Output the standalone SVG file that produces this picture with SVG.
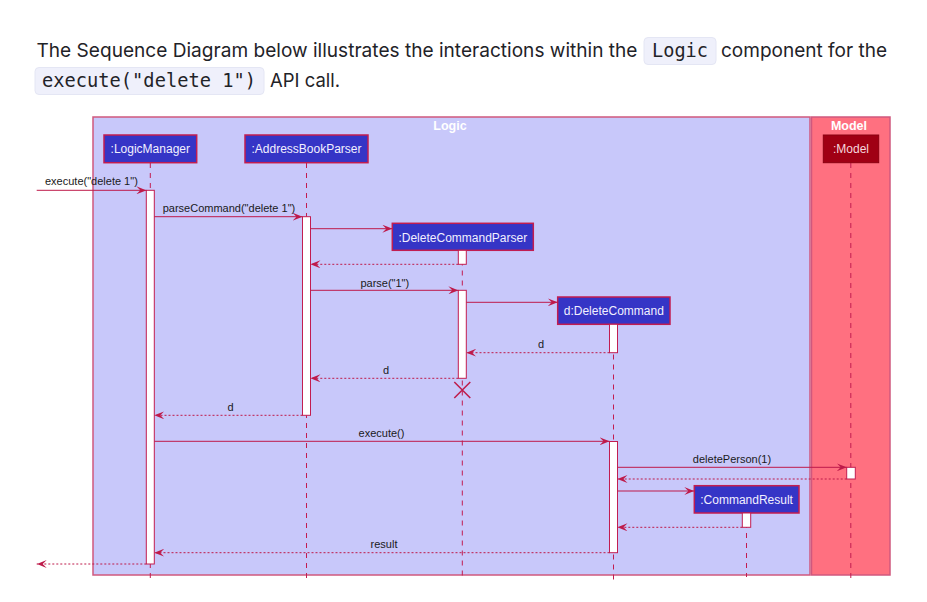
<svg xmlns="http://www.w3.org/2000/svg" width="927" height="602" viewBox="0 0 927 602">
<style>
.p{font-family:Inter,"Noto Sans",sans-serif;font-size:19px;fill:#1f2328}
.code{font-family:"DejaVu Sans Mono",monospace;font-size:18.6px;fill:#1f2328}
.cbg{fill:#eff0fb;stroke:#e4e6f4;stroke-width:1}
.grp{stroke:#d0587e;stroke-width:1.5}
.gt{font-family:"Liberation Sans",Arial,sans-serif;font-size:12.5px;font-weight:bold;fill:#ffffff;text-anchor:middle}
.part{fill:#3535c6;stroke:#c21d50;stroke-width:1.5}
.pt{font-family:"Liberation Sans",Arial,sans-serif;font-size:12px;fill:#f2f0ff;text-anchor:middle}
.life{stroke:#c21d50;stroke-width:1;stroke-dasharray:5 5;fill:none}
.act{fill:#ffffff;stroke:#c21d50;stroke-width:1}
.msg{stroke:#be1a4a;stroke-width:1;fill:none;marker-end:url(#ah)}
.ret{stroke:#be1a4a;stroke-width:1;fill:none;stroke-dasharray:2 2;marker-end:url(#ah)}
.ml{font-family:"Liberation Sans",Arial,sans-serif;font-size:11px;fill:#1a1a1a}
.mc{text-anchor:middle}
</style>
<defs>
<marker id="ah" markerUnits="userSpaceOnUse" markerWidth="10" markerHeight="8" refX="10" refY="4" orient="auto">
<path d="M0,0 L10,4 L0,8 L4,4 Z" fill="#be1a4a"/>
</marker>
</defs>
<rect width="927" height="602" fill="#ffffff"/>
<g id="header">
<text class="p" x="36.5" y="57" textLength="601" lengthAdjust="spacingAndGlyphs">The Sequence Diagram below illustrates the interactions within the</text>
<rect class="cbg" x="644" y="37.5" width="72" height="27" rx="4"/>
<text class="code" x="652" y="57" textLength="56" lengthAdjust="spacingAndGlyphs">Logic</text>
<text class="p" x="721" y="57" textLength="166" lengthAdjust="spacingAndGlyphs">component for the</text>
<rect class="cbg" x="35" y="67.5" width="229" height="27" rx="4"/>
<text class="code" x="42" y="87" textLength="214" lengthAdjust="spacingAndGlyphs">execute("delete 1")</text>
<text class="p" x="270" y="87" textLength="70" lengthAdjust="spacingAndGlyphs">API call.</text>
</g>
<g id="logic-box">
<rect class="grp" x="93" y="117" width="717" height="458" fill="#c8c8fa"/>
<text class="gt" x="450" y="130">Logic</text>
</g>
<g id="model-box">
<rect class="grp" x="811.5" y="117" width="78.5" height="458" fill="#ff7080"/>
<text class="gt" x="849" y="130">Model</text>
</g>
<g id="lifelines">
<line class="life" x1="150.3" y1="163" x2="150.3" y2="580"/>
<line class="life" x1="306.5" y1="163" x2="306.5" y2="580"/>
<line class="life" x1="462.3" y1="250.5" x2="462.3" y2="577"/>
<line class="life" x1="613.5" y1="324.5" x2="613.5" y2="580"/>
<line class="life" x1="746.5" y1="513" x2="746.5" y2="577"/>
<line class="life" x1="850.8" y1="163" x2="850.8" y2="580"/>
</g>
<g id="LogicManager">
<rect class="part" x="104" y="135" width="92.7" height="27.7"/>
<text class="pt" x="150.3" y="153">:LogicManager</text>
<rect class="act" x="146.3" y="190.3" width="8" height="373.7"/>
</g>
<g id="AddressBookParser">
<rect class="part" x="245" y="135" width="123" height="27.7"/>
<text class="pt" x="306.5" y="153">:AddressBookParser</text>
<rect class="act" x="302.5" y="216.7" width="8" height="198.6"/>
</g>
<g id="DeleteCommandParser">
<rect class="part" x="392.3" y="223.3" width="141" height="27"/>
<text class="pt" x="462.8" y="241.5">:DeleteCommandParser</text>
<rect class="act" x="458.3" y="250.3" width="8" height="14"/>
<rect class="act" x="458.3" y="290.3" width="8" height="88"/>
<path d="M454.3,382 L470.3,398 M470.3,382 L454.3,398" stroke="#be1a4a" stroke-width="1.5" fill="none"/>
</g>
<g id="DeleteCommand">
<rect class="part" x="557.7" y="297" width="112.3" height="27.3"/>
<text class="pt" x="613.8" y="315.2">d:DeleteCommand</text>
<rect class="act" x="609.5" y="324.3" width="8" height="28.4"/>
<rect class="act" x="609.5" y="441.5" width="8" height="111.2"/>
</g>
<g id="CommandResult">
<rect class="part" x="694.3" y="485.7" width="104.7" height="27.3"/>
<text class="pt" x="746.6" y="503.8">:CommandResult</text>
<rect class="act" x="742.3" y="513" width="8.4" height="14.3"/>
</g>
<g id="Model">
<rect x="823.3" y="135" width="55.4" height="27.7" fill="#a00014" stroke="#8a0010" stroke-width="1"/>
<text class="pt" x="851" y="153" style="fill:#f6d6dc">:Model</text>
<rect class="act" x="846.7" y="467.3" width="8.6" height="11.7"/>
</g>
<g id="connectors">
<line class="msg" x1="36.7" y1="190.3" x2="146.3" y2="190.3"/>
<text class="ml" x="45" y="185">execute("delete 1")</text>
<line class="msg" x1="154.3" y1="216.7" x2="302.5" y2="216.7"/>
<text class="ml" x="162.7" y="211.7">parseCommand("delete 1")</text>
<line class="msg" x1="310.5" y1="228.7" x2="392.3" y2="228.7"/>
<line class="ret" x1="458.3" y1="264.3" x2="310.5" y2="264.3"/>
<line class="msg" x1="310.5" y1="290.3" x2="458.3" y2="290.3"/>
<text class="ml mc" x="384.8" y="286.5">parse("1")</text>
<line class="msg" x1="466.3" y1="302.3" x2="557.7" y2="302.3"/>
<line class="ret" x1="609.5" y1="352.7" x2="466.3" y2="352.7"/>
<text class="ml mc" x="541" y="347.5">d</text>
<line class="ret" x1="458.3" y1="378.3" x2="310.5" y2="378.3"/>
<text class="ml mc" x="386" y="374">d</text>
<line class="ret" x1="302.5" y1="415.3" x2="154.3" y2="415.3"/>
<text class="ml mc" x="230.5" y="411">d</text>
<line class="msg" x1="154.3" y1="441.3" x2="609.5" y2="441.3"/>
<text class="ml mc" x="381.5" y="436.5">execute()</text>
<line class="msg" x1="617.5" y1="467.3" x2="846.7" y2="467.3"/>
<text class="ml mc" x="732" y="463">deletePerson(1)</text>
<line class="ret" x1="846.7" y1="479" x2="617.5" y2="479"/>
<line class="msg" x1="617.5" y1="491" x2="694.3" y2="491"/>
<line class="ret" x1="742.3" y1="527.3" x2="617.5" y2="527.3"/>
<line class="ret" x1="609.5" y1="552.7" x2="154.3" y2="552.7"/>
<text class="ml mc" x="384" y="548">result</text>
<line class="ret" x1="146.3" y1="564" x2="36.7" y2="564"/>
</g>
</svg>
